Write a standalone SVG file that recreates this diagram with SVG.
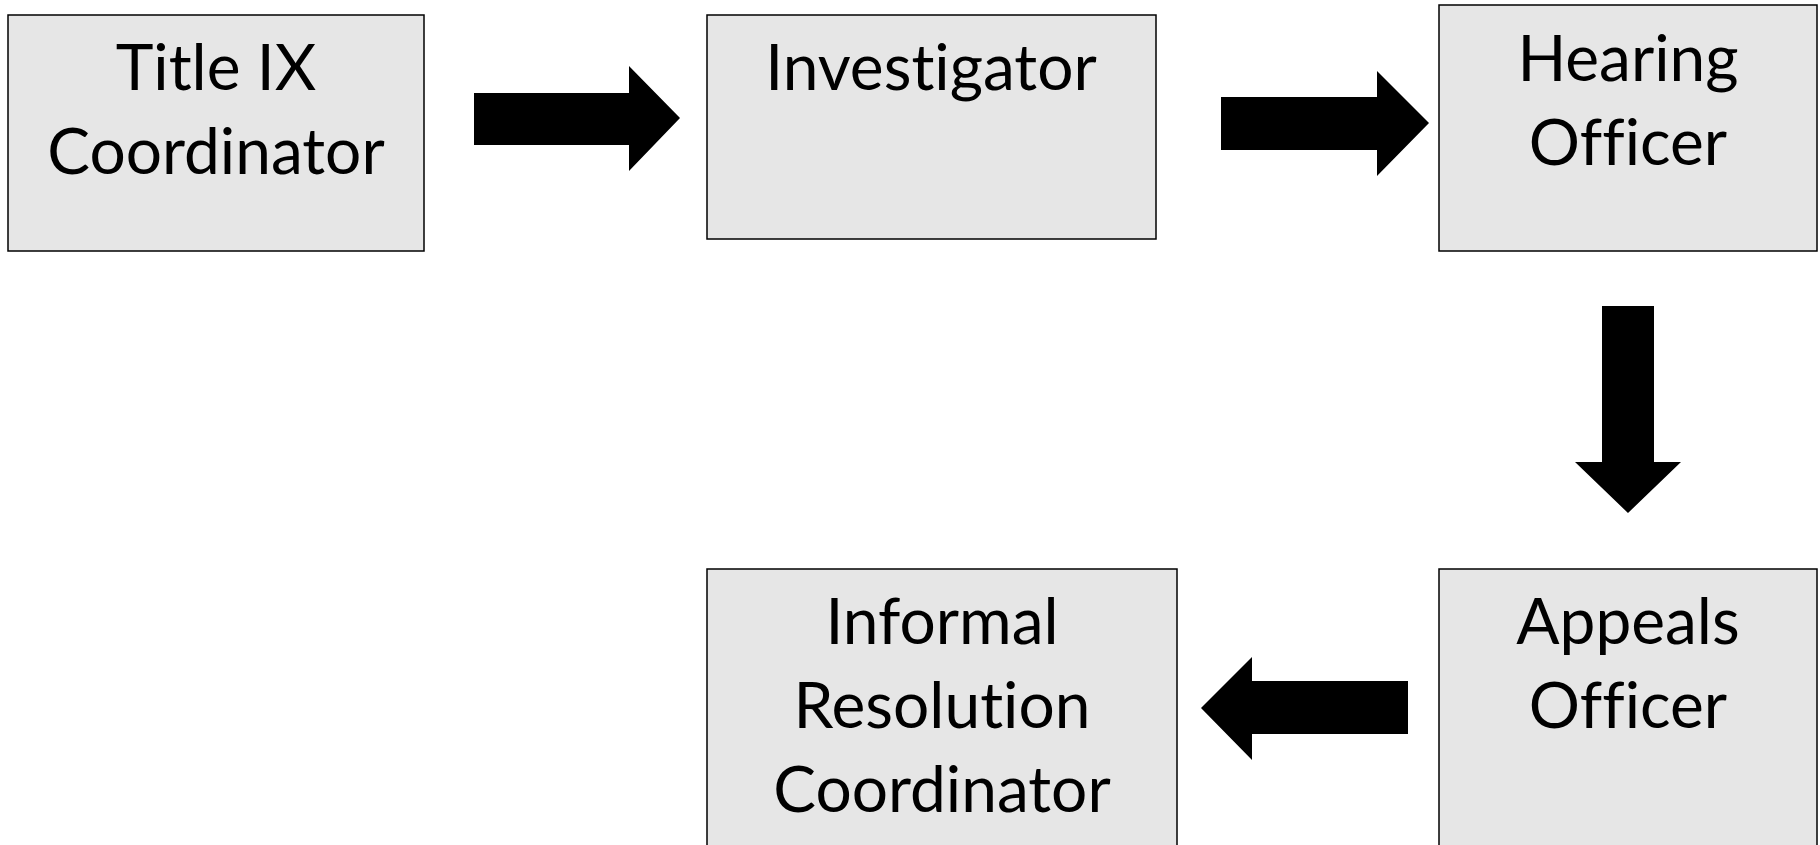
<svg xmlns="http://www.w3.org/2000/svg" width="1820" height="845" viewBox="0 0 1820 845">
<style>
.box{fill:#e6e6e6;stroke:#000;stroke-width:1.5}
.lbl{font-family:Lato,"Open Sans","Liberation Sans",sans-serif;font-size:64px;fill:#000;text-anchor:middle;font-variant-ligatures:none;font-feature-settings:"liga" 0}
.arr{fill:#000}
</style>
<rect width="1820" height="845" fill="#fff"/>
<g id="title-ix">
<rect class="box" x="8" y="15" width="416" height="236"/>
<text class="lbl" x="216" y="90">Title IX</text>
<text class="lbl" x="216" y="174">Coordinator</text>
</g>
<g id="investigator">
<rect class="box" x="707" y="15" width="449" height="224"/>
<text class="lbl" x="931" y="90">Investigator</text>
</g>
<g id="hearing-officer">
<rect class="box" x="1439" y="5" width="378" height="246"/>
<text class="lbl" x="1628" y="81">Hearing</text>
<text class="lbl" x="1628" y="165">Officer</text>
</g>
<g id="appeals-officer">
<rect class="box" x="1439" y="569" width="378" height="300"/>
<text class="lbl" x="1628" y="644">Appeals</text>
<text class="lbl" x="1628" y="728">Officer</text>
</g>
<g id="informal-resolution">
<rect class="box" x="707" y="569" width="470" height="300"/>
<text class="lbl" x="942" y="644">Informal</text>
<text class="lbl" x="942" y="728">Resolution</text>
<text class="lbl" x="942" y="812">Coordinator</text>
</g>
<g id="connectors">
<polygon class="arr" points="474,93 629,93 629,66 680,118 629,171 629,145 474,145"/>
<polygon class="arr" points="1221,97 1377,97 1377,71 1429,123 1377,176 1377,150 1221,150"/>
<polygon class="arr" points="1602,306 1654,306 1654,462 1681,462 1628,513 1575,462 1602,462"/>
<polygon class="arr" points="1408,681 1408,734 1252,734 1252,760 1201,708 1252,657 1252,681"/>
</g>
</svg>
